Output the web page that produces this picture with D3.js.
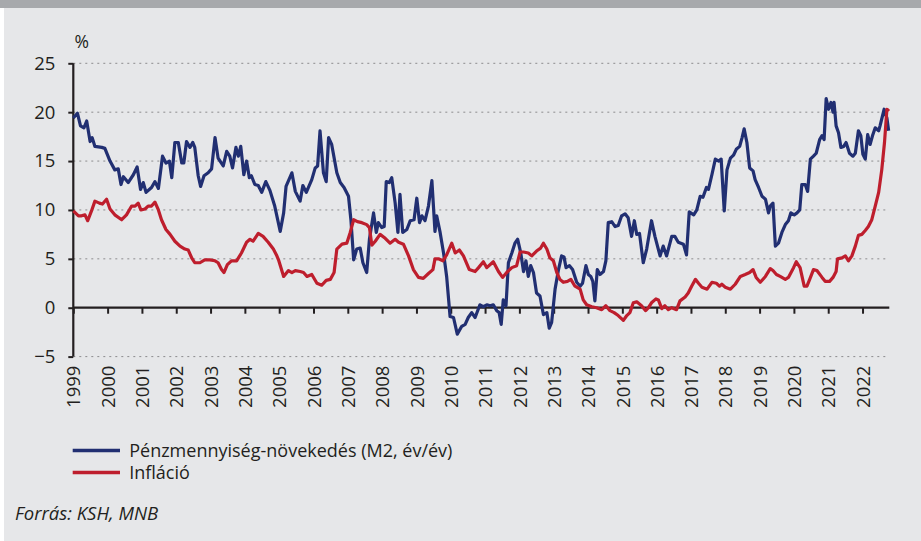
<!DOCTYPE html>
<html>
<head>
<meta charset="utf-8">
<script src="https://cdn.jsdelivr.net/npm/d3@7"></script>
<style>
  body { margin: 0; background: #ffffff; }
  svg { display: block; }
  text { font-family: "Open Sans", Lato, sans-serif; fill: #231f20; }
</style>
</head>
<body>
<svg id="chart"></svg>
<script>
// --- data (decimal year, percent) ---
var m2Years = [
  1999.00, 1999.12, 1999.21, 1999.31, 1999.39, 1999.49, 1999.55, 1999.63, 1999.83, 1999.92,
  2000.07, 2000.21, 2000.31, 2000.39, 2000.46, 2000.60, 2000.75, 2000.86, 2000.96, 2001.04,
  2001.12, 2001.28, 2001.38, 2001.48, 2001.60, 2001.70, 2001.80, 2001.87, 2001.96, 2002.06,
  2002.16, 2002.22, 2002.30, 2002.40, 2002.48, 2002.54, 2002.64, 2002.71, 2002.81, 2002.93,
  2003.03, 2003.13, 2003.22, 2003.37, 2003.47, 2003.56, 2003.64, 2003.74, 2003.81, 2003.88,
  2003.97, 2004.05, 2004.13, 2004.19, 2004.29, 2004.39, 2004.49, 2004.61, 2004.73, 2004.87,
  2005.03, 2005.13, 2005.20, 2005.37, 2005.47, 2005.61, 2005.69, 2005.79, 2005.95, 2006.05,
  2006.12, 2006.19, 2006.29, 2006.37, 2006.44, 2006.53, 2006.68, 2006.78, 2006.89, 2007.02,
  2007.09, 2007.17, 2007.26, 2007.36, 2007.44, 2007.55, 2007.63, 2007.75, 2007.83, 2007.89,
  2007.99, 2008.06, 2008.12, 2008.21, 2008.28, 2008.38, 2008.46, 2008.52, 2008.60, 2008.72,
  2008.82, 2008.93, 2009.01, 2009.09, 2009.16, 2009.25, 2009.35, 2009.45, 2009.54, 2009.59,
  2009.69, 2009.79, 2009.88, 2009.98, 2010.08, 2010.19, 2010.32, 2010.42, 2010.51, 2010.61,
  2010.71, 2010.85, 2010.95, 2011.05, 2011.15, 2011.24, 2011.34, 2011.41, 2011.47, 2011.53,
  2011.61, 2011.68, 2011.78, 2011.87, 2011.95, 2012.04, 2012.12, 2012.19, 2012.26, 2012.33,
  2012.41, 2012.50, 2012.60, 2012.70, 2012.80, 2012.87, 2012.94, 2013.04, 2013.14, 2013.23,
  2013.30, 2013.36, 2013.46, 2013.55, 2013.67, 2013.77, 2013.84, 2013.94, 2014.01, 2014.08,
  2014.14, 2014.20, 2014.27, 2014.35, 2014.45, 2014.52, 2014.59, 2014.69, 2014.79, 2014.88,
  2014.98, 2015.08, 2015.17, 2015.27, 2015.35, 2015.42, 2015.50, 2015.61, 2015.71, 2015.85,
  2015.95, 2016.10, 2016.19, 2016.29, 2016.44, 2016.53, 2016.63, 2016.78, 2016.87, 2016.95,
  2017.08, 2017.17, 2017.27, 2017.35, 2017.45, 2017.51, 2017.61, 2017.71, 2017.81, 2017.88,
  2017.97, 2018.05, 2018.15, 2018.24, 2018.32, 2018.42, 2018.49, 2018.55, 2018.63, 2018.71,
  2018.81, 2018.87, 2018.97, 2019.07, 2019.17, 2019.26, 2019.31, 2019.39, 2019.46, 2019.55,
  2019.65, 2019.75, 2019.84, 2019.91, 2020.01, 2020.09, 2020.17, 2020.23, 2020.33, 2020.40,
  2020.48, 2020.57, 2020.65, 2020.75, 2020.82, 2020.88, 2020.94, 2021.01, 2021.08, 2021.14,
  2021.17, 2021.23, 2021.30, 2021.37, 2021.45, 2021.52, 2021.62, 2021.72, 2021.79, 2021.88,
  2021.95, 2022.01, 2022.08, 2022.15, 2022.22, 2022.30, 2022.37, 2022.47, 2022.51, 2022.63,
  2022.71, 2022.76
];
var m2Values = [
  19.4, 19.9, 18.6, 18.4, 19.1, 17.0, 17.4, 16.5, 16.4, 16.3,
  15.0, 14.1, 14.2, 12.6, 13.4, 12.8, 13.6, 14.4, 12.1, 12.8,
  11.8, 12.3, 12.9, 12.2, 15.5, 14.8, 15.0, 13.3, 16.9, 16.9,
  14.8, 14.8, 17.0, 16.4, 16.9, 16.4, 13.5, 12.4, 13.5, 13.8,
  14.2, 17.4, 15.3, 14.5, 16.0, 15.5, 14.3, 16.4, 15.5, 16.5,
  13.6, 15.0, 13.3, 13.5, 12.6, 12.5, 11.8, 12.9, 12.0, 10.4,
  7.8, 9.7, 12.4, 13.8, 11.9, 10.9, 12.5, 11.8, 13.1, 14.3,
  14.5, 18.1, 13.8, 12.9, 17.4, 16.7, 13.8, 12.8, 12.3, 11.4,
  9.0, 4.9, 6.0, 6.1, 4.6, 3.6, 7.0, 9.7, 7.7, 8.7,
  8.2, 8.3, 12.9, 12.8, 13.3, 10.7, 7.7, 11.6, 7.7, 8.0,
  8.9, 9.0, 11.2, 8.7, 9.4, 8.9, 10.4, 13.0, 7.8, 9.4,
  7.7, 5.6, 3.2, -0.9, -1.0, -2.7, -1.9, -1.7, -1.0, -0.5,
  -1.0, 0.3, 0.1, 0.3, 0.2, 0.3, -0.3, -0.5, -1.7, 0.8,
  0.2, 4.6, 5.6, 6.6, 7.0, 5.6, 3.7, 4.8, 3.2, 4.3,
  3.6, 1.5, 1.2, -0.7, -0.5, -2.1, -1.5, 1.9, 3.9, 5.3,
  5.2, 4.1, 4.3, 3.9, 2.6, 2.2, 2.5, 4.3, 3.4, 3.2,
  2.7, 0.7, 3.9, 3.4, 3.7, 4.8, 8.7, 8.8, 8.3, 8.4,
  9.4, 9.6, 9.2, 7.3, 8.9, 7.5, 7.6, 4.6, 6.0, 8.9,
  7.3, 5.3, 6.3, 5.3, 7.3, 7.3, 6.7, 6.5, 5.4, 9.8,
  9.5, 10.0, 11.4, 11.3, 12.3, 12.1, 13.6, 15.2, 15.0, 15.2,
  9.9, 14.1, 15.3, 15.6, 16.2, 16.5, 17.4, 18.3, 16.9, 14.3,
  14.0, 13.1, 12.3, 11.4, 11.1, 9.7, 10.4, 10.7, 6.3, 6.6,
  7.7, 8.5, 8.9, 9.7, 9.5, 9.7, 10.0, 12.6, 12.6, 11.9,
  15.2, 15.5, 15.8, 17.2, 17.6, 17.2, 21.4, 20.3, 21.0, 20.0,
  21.0, 18.6, 17.9, 16.4, 16.5, 16.9, 15.8, 15.5, 15.8, 18.1,
  17.6, 15.7, 15.2, 17.7, 16.7, 17.7, 18.4, 18.1, 18.6, 20.3,
  19.4, 18.1
];

var inflYears = [
  1999.00, 1999.15, 1999.24, 1999.34, 1999.42, 1999.53, 1999.63, 1999.76, 1999.85, 1999.97,
  2000.07, 2000.21, 2000.41, 2000.55, 2000.70, 2000.80, 2000.89, 2000.97, 2001.09, 2001.18,
  2001.28, 2001.38, 2001.48, 2001.57, 2001.70, 2001.82, 2001.96, 2002.11, 2002.25, 2002.35,
  2002.45, 2002.54, 2002.69, 2002.83, 2002.98, 2003.13, 2003.22, 2003.32, 2003.39, 2003.49,
  2003.61, 2003.76, 2003.90, 2004.05, 2004.15, 2004.24, 2004.39, 2004.53, 2004.68, 2004.83,
  2004.92, 2004.98, 2005.13, 2005.27, 2005.37, 2005.47, 2005.61, 2005.71, 2005.81, 2005.95,
  2006.10, 2006.24, 2006.37, 2006.49, 2006.60, 2006.68, 2006.83, 2006.97, 2007.07, 2007.17,
  2007.28, 2007.41, 2007.55, 2007.63, 2007.70, 2007.80, 2007.94, 2008.09, 2008.23, 2008.38,
  2008.48, 2008.62, 2008.77, 2008.91, 2009.06, 2009.20, 2009.35, 2009.48, 2009.54, 2009.64,
  2009.77, 2009.88, 2010.03, 2010.13, 2010.25, 2010.37, 2010.54, 2010.71, 2010.81, 2010.95,
  2011.05, 2011.24, 2011.39, 2011.51, 2011.63, 2011.78, 2011.92, 2012.02, 2012.12, 2012.26,
  2012.36, 2012.50, 2012.62, 2012.70, 2012.80, 2012.89, 2012.99, 2013.09, 2013.18, 2013.28,
  2013.40, 2013.50, 2013.62, 2013.77, 2013.86, 2013.96, 2014.11, 2014.25, 2014.40, 2014.52,
  2014.64, 2014.76, 2014.88, 2015.03, 2015.13, 2015.22, 2015.32, 2015.42, 2015.56, 2015.68,
  2015.76, 2015.85, 2015.98, 2016.05, 2016.15, 2016.24, 2016.34, 2016.44, 2016.58, 2016.68,
  2016.83, 2016.92, 2017.02, 2017.13, 2017.22, 2017.32, 2017.47, 2017.61, 2017.74, 2017.83,
  2017.90, 2018.00, 2018.15, 2018.29, 2018.44, 2018.58, 2018.71, 2018.81, 2018.90, 2019.02,
  2019.17, 2019.31, 2019.39, 2019.49, 2019.60, 2019.75, 2019.84, 2019.99, 2020.07, 2020.18,
  2020.30, 2020.38, 2020.46, 2020.57, 2020.67, 2020.82, 2020.91, 2021.04, 2021.14, 2021.23,
  2021.27, 2021.40, 2021.50, 2021.59, 2021.69, 2021.79, 2021.88, 2021.98, 2022.08, 2022.17,
  2022.27, 2022.37, 2022.47, 2022.56, 2022.64, 2022.71, 2022.77
];
var inflValues = [
  9.9, 9.4, 9.4, 9.5, 8.9, 9.9, 10.9, 10.7, 10.6, 11.1,
  10.1, 9.5, 9.0, 9.5, 10.4, 10.4, 10.7, 10.0, 10.1, 10.4,
  10.4, 10.8, 10.0, 9.0, 8.0, 7.5, 6.8, 6.3, 6.0, 5.9,
  5.1, 4.6, 4.6, 4.9, 4.9, 4.8, 4.6, 3.9, 3.6, 4.4,
  4.8, 4.8, 5.6, 6.7, 7.0, 6.8, 7.6, 7.3, 6.7, 6.0,
  5.4, 4.9, 3.2, 3.8, 3.6, 3.8, 3.7, 3.6, 3.2, 3.4,
  2.5, 2.3, 2.8, 2.9, 3.6, 6.0, 6.5, 6.6, 7.7, 9.0,
  8.8, 8.7, 8.5, 8.2, 6.4, 6.8, 7.5, 7.1, 6.6, 7.0,
  6.7, 6.5, 5.3, 3.9, 3.1, 3.0, 3.5, 3.9, 5.0, 5.0,
  4.8, 5.4, 6.6, 5.6, 5.9, 5.3, 3.9, 3.7, 4.1, 4.7,
  4.1, 4.7, 3.7, 3.1, 3.6, 4.1, 4.3, 5.7, 5.7, 5.6,
  5.3, 5.8, 6.1, 6.6, 6.0, 5.1, 4.8, 3.6, 2.9, 2.6,
  2.7, 2.9, 2.2, 1.9, 0.8, 0.3, 0.1, 0.0, -0.2, 0.2,
  -0.3, -0.5, -0.8, -1.3, -0.8, -0.5, 0.5, 0.6, 0.2, -0.3,
  0.0, 0.5, 0.9, 0.8, -0.1, 0.2, -0.2, 0.0, -0.2, 0.7,
  1.1, 1.5, 2.2, 2.9, 2.5, 2.1, 1.9, 2.6, 2.5, 2.2,
  2.4, 2.1, 1.9, 2.4, 3.2, 3.4, 3.6, 3.9, 3.1, 2.6,
  3.2, 4.0, 3.8, 3.4, 3.2, 2.9, 3.1, 4.1, 4.7, 4.1,
  2.2, 2.2, 2.9, 3.9, 3.8, 3.1, 2.7, 2.7, 3.1, 3.7,
  5.0, 5.1, 5.3, 4.8, 5.3, 6.3, 7.4, 7.5, 7.9, 8.3,
  9.0, 10.4, 11.8, 14.1, 16.9, 20.3, 20.1
];

var yearTicks = d3.range(1999, 2023);
var valueTicks = [-5, 0, 5, 10, 15, 20, 25];
var seriesNames = ["Pénzmennyiség-növekedés (M2, év/év)", "Infláció"];
var seriesColors = ["#212f72", "#be1e2d"];
var unitLabel = "%";
var sourceText = "Forrás: KSH, MNB";

var W = 921, H = 541;
var fontSize = "18.5px";
var svg = d3.select("#chart").attr("width", W).attr("height", H);

// background panel
svg.append("rect").attr("x", 4).attr("y", 0).attr("width", W - 4).attr("height", H).attr("fill", "#e6e7e9");
svg.append("rect").attr("x", 0).attr("y", 0).attr("width", W).attr("height", 8).attr("fill", "#a7a9ac");

var xScale = d3.scaleLinear().domain([1999, 2022.78]).range([73.3, 889.3]);
var yScale = d3.scaleLinear().domain([-5, 25]).range([356.6, 63.3]);

// dotted grid
svg.append("g")
    .selectAll("line")
    .data(valueTicks.filter(function(v){ return v != 0; }))
    .enter()
    .append("line")
    .attr("x1", xScale(1999))
    .attr("x2", 887)
    .attr("y1", function(v){ return yScale(v); })
    .attr("y2", function(v){ return yScale(v); })
    .attr("stroke", "#8c8c8e")
    .attr("stroke-width", 1)
    .attr("stroke-dasharray", "2,4");

// x axis line at zero with year ticks
var xAxis = d3.axisBottom(xScale).tickValues(yearTicks).tickSize(6).tickFormat("");
var gx = svg.append("g")
    .attr("transform", "translate(0," + yScale(0) + ")")
    .call(xAxis);
gx.select(".domain").attr("stroke", "#231f20").attr("stroke-width", 2.2).attr("d", "M" + xScale(1999) + ",0H" + 889.3);
gx.selectAll(".tick line").attr("stroke", "#231f20").attr("stroke-width", 2);

// year labels at the bottom
var xLabels = d3.axisBottom(xScale).tickValues(yearTicks).tickSize(0).tickFormat(d3.format("d"));
var gxl = svg.append("g")
    .attr("transform", "translate(0," + yScale(-5) + ")")
    .call(xLabels);
gxl.select(".domain").remove();
gxl.selectAll("text")
    .attr("transform", "rotate(-90)")
    .attr("x", -9)
    .attr("y", 0)
    .attr("dy", "0.36em")
    .attr("text-anchor", "end")
    .style("font-size", fontSize)
    .style("font-family", "'Open Sans', Lato, sans-serif")
    .attr("fill", "#231f20");

// y axis
var yAxis = d3.axisLeft(yScale).tickValues(valueTicks).tickSize(5).tickPadding(13);
var gy = svg.append("g")
    .attr("transform", "translate(" + xScale(1999) + ",0)")
    .call(yAxis);
gy.select(".domain").attr("stroke", "#231f20").attr("stroke-width", 2.2).attr("d", "M0," + yScale(25) + "V" + yScale(-5));
gy.selectAll(".tick line").attr("stroke", "#231f20").attr("stroke-width", 2);
gy.selectAll("text")
    .style("font-size", fontSize)
    .style("font-family", "'Open Sans', Lato, sans-serif")
    .attr("fill", "#231f20");

svg.append("text")
    .attr("x", 81.7)
    .attr("y", 48)
    .attr("text-anchor", "middle")
    .style("font-size", "17.5px")
    .text(unitLabel);

// lines
var lineGenerator = d3.line()
    .x(function(d){ return xScale(d[0]); })
    .y(function(d){ return yScale(d[1]); });

var seriesData = [
    d3.zip(m2Years, m2Values),
    d3.zip(inflYears, inflValues)
];

svg.append("g")
    .selectAll("path")
    .data(seriesData)
    .enter()
    .append("path")
    .attr("d", lineGenerator)
    .attr("fill", "none")
    .attr("stroke", function(d, i){ return seriesColors[i]; })
    .attr("stroke-width", 3.2)
    .attr("stroke-linejoin", "round");

// legend
var legend = svg.append("g")
    .selectAll("g")
    .data(seriesNames)
    .enter()
    .append("g")
    .attr("transform", function(d, i){ return "translate(72.7," + (450.5 + i * 22) + ")"; });

legend.append("line")
    .attr("x1", 0).attr("x2", 47.3)
    .attr("stroke", function(d, i){ return seriesColors[i]; })
    .attr("stroke-width", 3.5);

legend.append("text")
    .attr("x", 56.5)
    .attr("dy", "0.35em")
    .style("font-size", "18px")
    .text(function(d){ return d; });

svg.append("text")
    .attr("x", 15)
    .attr("y", 520)
    .style("font-size", fontSize)
    .style("font-style", "italic")
    .text(sourceText);
</script>
</body>
</html>
